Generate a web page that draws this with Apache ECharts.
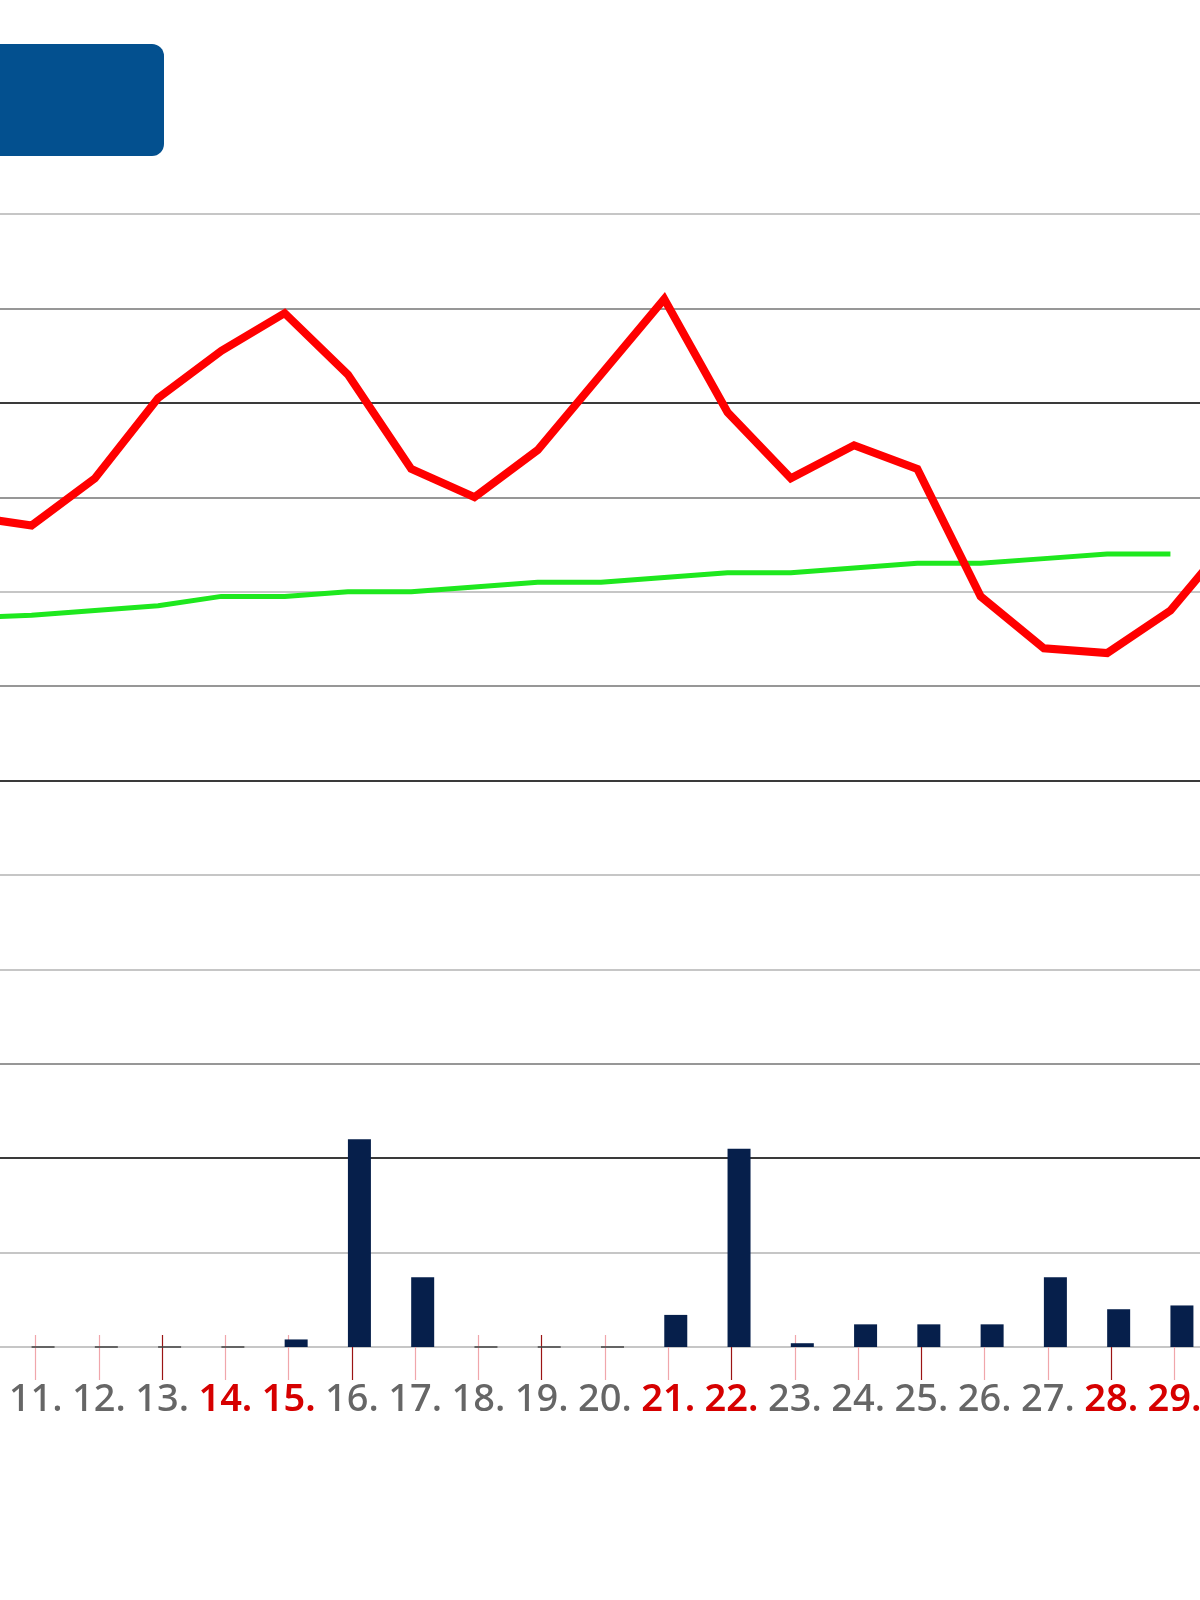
<!DOCTYPE html>
<html><head><meta charset="utf-8">
<script src="https://cdn.jsdelivr.net/npm/echarts@6/dist/echarts.min.js"></script>
<style>html,body{margin:0;padding:0;background:#fff}#c{width:1200px;height:1600px}</style>
</head><body><div id="c"></div>
<script>
// Days shown on the axis (10 and 30 are only partly inside the picture)
const days = [10,11,12,13,14,15,16,17,18,19,20,21,22,23,24,25,26,27,28,29,30];
const weekendDays = [14,15,21,22,28,29];
// Measured temperature (red)
const tempActual = [5.6,5.4,6.4,8.1,9.1,9.9,8.6,6.6,6.0,7.0,8.6,10.2,7.8,6.4,7.1,6.6,3.9,2.8,2.7,3.6,5.2];
// Long-term normal temperature (green)
const tempNormal = [3.45,3.5,3.6,3.7,3.9,3.9,4.0,4.0,4.1,4.2,4.2,4.3,4.4,4.4,4.5,4.6,4.6,4.7,4.8,4.8,null];
// Precipitation (bars)
const precip = [null,0,0,0,0,0.4,11.0,3.7,0,0,0,1.7,10.5,0.2,1.2,1.2,1.2,3.7,2.0,2.2,null];

const chart = echarts.init(document.getElementById('c'), null, {renderer:'canvas'});
const LIGHT = '#c6c6c6', MID = '#979797', DARK = '#3a3a3a';
const FONT = '"Noto Sans", "Open Sans", sans-serif';

const option = {
  animation: false,
  backgroundColor: '#ffffff',
  graphic: [{
    type: 'rect', left: -20, top: 44,
    shape: {width: 184, height: 112, r: 12},
    style: {fill: '#03508f'}
  }],
  grid: [
    {left: -31.7, right: -33.7, top: 214, bottom: 253, outerBoundsMode: 'none', containLabel: false},
    {left: -27.7, right: -37.7, top: 1335, bottom: 220, outerBoundsMode: 'none', containLabel: false}
  ],
  xAxis: [
    {type: 'category', gridIndex: 0, data: days.map(String), boundaryGap: false,
     axisLine: {show: false}, axisTick: {show: false}, axisLabel: {show: false}, splitLine: {show: false}},
    {type: 'category', gridIndex: 1, data: days.map(String), boundaryGap: false,
     axisLine: {show: false}, axisTick: {show: false},
     splitLine: {show: true, interval: 0, lineStyle: {color: ['#9b1414', '#f0a6ab', '#f0a6ab'], width: 1.2}},
     axisLabel: {
       interval: 0, margin: 1, fontSize: 38, fontFamily: FONT,
       formatter: v => weekendDays.includes(+v) ? '{w|' + v + '.}' : '{n|' + v + '.}',
       rich: {
         n: {color: '#666666', fontSize: 38, fontFamily: FONT, fontWeight: 500},
         w: {color: '#d60000', fontSize: 38, fontFamily: FONT, fontWeight: 600}
       }
     }}
  ],
  yAxis: [
    {type: 'value', gridIndex: 0, min: -12, max: 12, interval: 2,
     axisLine: {show: false}, axisTick: {show: false}, axisLabel: {show: false},
     splitLine: {show: true, lineStyle: {width: 2,
       color: [LIGHT, LIGHT, DARK, MID, LIGHT, LIGHT, DARK, MID, LIGHT, MID, DARK, MID, LIGHT]}}},
    {type: 'value', gridIndex: 0, min: 0, max: 60, interval: 5, show: false, splitLine: {show: false}},
    {type: 'value', gridIndex: 1, min: 0, max: 1, show: false, splitLine: {show: false}}
  ],
  series: [
    {type: 'bar', xAxisIndex: 0, yAxisIndex: 1, data: precip.map(() => null),
     barWidth: 23, barGap: '0%', silent: true, itemStyle: {color: 'rgba(0,0,0,0)'}},
    {type: 'bar', xAxisIndex: 0, yAxisIndex: 1, barWidth: 23, barGap: '0%',
     data: precip.map(v => v === 0 ? {value: 0, itemStyle: {borderColor: '#444', borderWidth: 1.5}} : v),
     itemStyle: {color: '#061f4b'}},
    {type: 'line', xAxisIndex: 0, yAxisIndex: 0, data: tempNormal, symbol: 'none',
     lineStyle: {color: '#1ee81e', width: 5}, z: 3},
    {type: 'line', xAxisIndex: 0, yAxisIndex: 0, data: tempActual, symbol: 'none',
     lineStyle: {color: '#ff0000', width: 8, join: 'miter'}, z: 4}
  ]
};
chart.setOption(option);
</script>
</body></html>
